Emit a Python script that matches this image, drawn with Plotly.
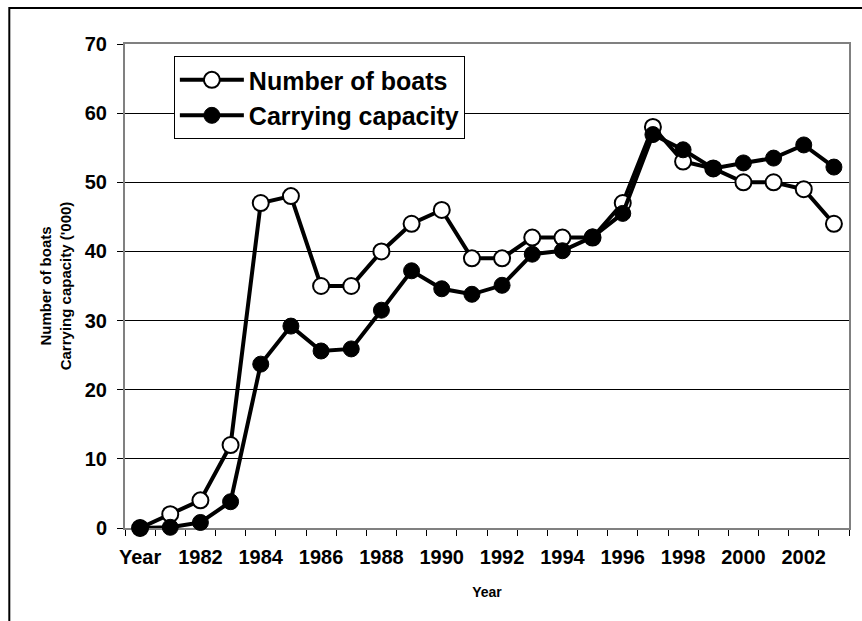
import plotly.graph_objects as go

# Categories along the x axis (first slot is the header row "Year")
years = ["Year"] + [str(y) for y in range(1981, 2004)]

# Fleet size and carrying capacity ('000)
number_of_boats = [0, 2, 4, 12, 47, 48, 35, 35, 40, 44, 46, 39, 39,
                   42, 42, 42, 47, 58, 53, 52, 50, 50, 49, 44]
carrying_capacity = [0, 0.1, 0.8, 3.8, 23.7, 29.2, 25.6, 25.9, 31.5, 37.2, 34.6, 33.8, 35.1,
                     39.6, 40.1, 42.1, 45.5, 56.9, 54.7, 52.0, 52.8, 53.5, 55.4, 52.2]

# Only every other year is labelled
tick_text = [y if i % 2 == 0 else "" for i, y in enumerate(years)]

FONT = "Arial, Liberation Sans, sans-serif"

fig = go.Figure()
fig.add_trace(go.Scatter(
    x=years, y=number_of_boats, name="Number of boats", mode="lines+markers",
    line=dict(color="black", width=4),
    marker=dict(symbol="circle", size=16, color="white", line=dict(color="black", width=2)),
    cliponaxis=False,
))
fig.add_trace(go.Scatter(
    x=years, y=carrying_capacity, name="Carrying capacity", mode="lines+markers",
    line=dict(color="black", width=4),
    marker=dict(symbol="circle", size=16, color="black", line=dict(color="black", width=1)),
    cliponaxis=False,
))

fig.update_layout(
    width=862, height=621,
    margin=dict(l=125, r=11, t=44, b=93),
    paper_bgcolor="white", plot_bgcolor="white",
    font=dict(family=FONT, color="black"),
    showlegend=True,
    legend=dict(
        x=0.0675, y=0.975, xanchor="left", yanchor="top",
        bgcolor="white", bordercolor="black", borderwidth=1,
        font=dict(family=FONT, size=25, weight=700, color="black"),
        itemwidth=64, tracegroupgap=0,
    ),
    shapes=[dict(
        type="rect", xref="paper", yref="paper",
        x0=-0.1598, x1=1.05, y0=-0.3, y1=1.0744,
        line=dict(color="black", width=2), layer="below",
    )],
)

fig.update_xaxes(
    type="category", categoryorder="array", categoryarray=years,
    range=[-0.5, len(years) - 0.5],
    tickmode="array", tickvals=years, ticktext=tick_text, tickangle=0,
    tickson="boundaries", ticks="outside", ticklen=6, tickwidth=1, tickcolor="black",
    tickfont=dict(family=FONT, size=20, weight=700, color="black"),
    ticklabelstandoff=10,
    showgrid=False, showline=True, linecolor="#808080", linewidth=2, mirror=True,
    layer="below traces",
    title=dict(text="Year", font=dict(family=FONT, size=14, weight=700, color="black"),
               standoff=20),
)

fig.update_yaxes(
    range=[0, 70], tickmode="linear", tick0=0, dtick=10,
    ticks="outside", ticklen=6, tickwidth=1, tickcolor="black",
    tickfont=dict(family=FONT, size=20, weight=700, color="black"),
    ticklabelstandoff=6,
    showgrid=True, gridcolor="black", gridwidth=1,
    showline=True, linecolor="#808080", linewidth=2, mirror=True,
    zeroline=False, layer="below traces",
    title=dict(text="Number of boats<br>Carrying capacity ('000)",
               font=dict(family=FONT, size=15, weight=700, color="black"),
               standoff=10),
)

fig.write_html("out.html")
